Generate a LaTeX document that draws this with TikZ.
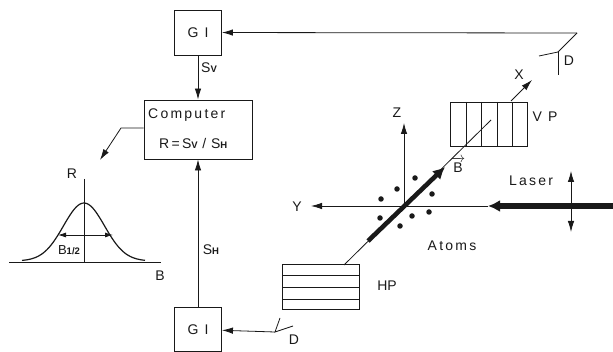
\documentclass[tikz,border=0pt]{standalone}
\usepackage{amsmath}
\usepackage{fontspec}
\setmainfont{Liberation Sans}
\newfontfamily\spaced[LetterSpace=16]{Liberation Sans}
\usepackage{tikz}
\usetikzlibrary{arrows.meta,calc,positioning}
\definecolor{inkblack}{RGB}{25,25,25}
\newcommand{\subsig}[1]{{\fontsize{9.5}{10}\selectfont\bfseries #1}}

\begin{document}
\begin{tikzpicture}[
      x=1pt, y=-1pt,
      every node/.style={text=inkblack},
      box/.style={draw=inkblack, line width=0.9pt, inner sep=0pt},
      lbl/.style={inner sep=0pt, font=\fontsize{14}{15}\selectfont},
      sig/.style={draw=inkblack, -{Latex[length=11pt,width=6.5pt]}, line width=0.8pt},
      thinline/.style={draw=inkblack, line width=0.8pt},
      beam/.style={draw=inkblack, line width=4.6pt},
      bigtip/.style={-{Latex[length=12pt,width=12pt]}},
      atom/.style={circle, fill=inkblack, inner sep=0pt, minimum size=5.5pt}
    ]
      \useasboundingbox (0,0) rectangle (613,352);

      % Electronics
      \node[box, minimum width=47pt, minimum height=45pt, lbl] (gitop) at (198,32.5) {\spaced G I};
      \node[box, minimum width=47pt, minimum height=44pt, lbl] (gibot) at (198,329.5) {\spaced G I};
      \node[box, minimum width=108pt, minimum height=59pt] (computer) at (198,129.5) {};
      \node[lbl, anchor=west] (comptext) at (148,115) {\spaced Computer};
      \node[lbl, anchor=west] (ratio) at (159,143) {R\,=\,S\subsig{V}\,\,/\,\,S\subsig{H}};
      \node[lbl] (sv) at (209,68) {S\subsig{V}};
      \node[lbl] (sh) at (211,250) {S\subsig{H}};
      \draw[sig] (gitop) -- (computer);
      \draw[sig] (gibot) -- (computer);

      % Curve
      \coordinate (outbend) at (121,128);
      \coordinate (outend) at (100,160);
      \draw[sig] (computer.west |- outbend) -- (outbend) -- (outend);
      \coordinate (axisr) at (84,179);
      \coordinate (axisr0) at (84,263);
      \coordinate (axisb0) at (9,263);
      \coordinate (axisb) at (161,263);
      \coordinate (halfl) at (58,235);
      \coordinate (halfr) at (113,235);
      \draw[thinline] (axisr) -- (axisr0);
      \draw[thinline, line width=1pt] (axisb0) -- (axisb);
      \draw[thinline, line width=1.2pt] plot[domain=22:145, samples=60, smooth] (\x,{261-58*exp(-(\x-84)^2/840)});
      \draw[thinline, {Latex[length=8pt,width=5pt]}-{Latex[length=8pt,width=5pt]}] (halfl) -- (halfr);
      \node[lbl] (rlabel) at (72,174) {R};
      \node[lbl] (blabel) at (160,276) {B};
      \node[lbl, font=\fontsize{13}{14}\selectfont] (halfwidth) at (69,250) {B\subsig{1/2}};

      % Polarizers
      \node[box, minimum width=77pt, minimum height=45pt] (hp) at (320.5,286.5) {};
      \draw[thinline] (282,275) -- (359,275);
      \draw[thinline] (282,287) -- (359,287);
      \draw[thinline] (282,299) -- (359,299);
      \node[box, minimum width=77pt, minimum height=44pt] (vp) at (488.5,124) {};
      \foreach \xdiv in {466,481,497,512}
        \draw[thinline] (\xdiv,102) -- (\xdiv,146);
      \node[lbl] (hplabel) at (387,286) {HP};
      \node[lbl] (vplabel) at (545,117) {\spaced V P};

      % Axes
      \coordinate (origin) at (404,206);
      \coordinate (xstart) at (344,265);
      \coordinate (xend) at (491,120);
      \coordinate (bstart) at (368,241);
      \coordinate (bend) at (445,167);
      \coordinate (xarrow) at (532,80);
      \coordinate (zend) at (404,123);
      \coordinate (yend) at (311,206);
      \coordinate (laserstart) at (613,206);
      \coordinate (laserend) at (488,206);
      \draw[thinline] (xstart) -- (xend);
      \draw[beam, bigtip] (bstart) -- (bend);
      \draw[sig] (511,101) -- (xarrow);
      \draw[sig] (origin) -- (zend);
      \draw[sig] (laserend) -- (yend);
      \draw[beam, line width=5.5pt, bigtip] (laserstart) -- (laserend);
      \draw[thinline, {Latex[length=11pt,width=6.5pt]}-{Latex[length=11pt,width=6.5pt]}] (571,171) -- (571,232);
      \node[lbl] (xlabel) at (519,75) {X};
      \node[lbl] (zlabel) at (397,113) {Z};
      \node[lbl] (ylabel) at (297,207) {Y};
      \node[lbl] (bfield) at (458,165) {$\overrightarrow{\text{B}}$};
      \node[lbl] (laser) at (531,181) {\spaced Laser};
      \node[lbl] (atoms) at (452,246) {\spaced Atoms};

      % Atoms
      \foreach \xa/\ya in {381/199,397/189,415/178,432/194,429/212,412/216,400/226,380/218}
        \node[atom] at (\xa,\ya) {};

      % Detectors
      \coordinate (dtopcorner) at (577,33);
      \coordinate (dtopjoin) at (558,52);
      \draw[sig] (dtopcorner) -- (gitop);
      \draw[thinline] (dtopcorner) -- (dtopjoin) -- (539,56);
      \draw[thinline] (dtopjoin) -- (558,75);
      \node[lbl] (dtop) at (569,61) {D};
      \coordinate (dbotjoin) at (275,332);
      \draw[sig] (dbotjoin) -- (gibot);
      \draw[thinline] (280,318) -- (dbotjoin) -- (293,326);
      \node[lbl] (dbot) at (294,340) {D};
    \end{tikzpicture}
\end{document}
